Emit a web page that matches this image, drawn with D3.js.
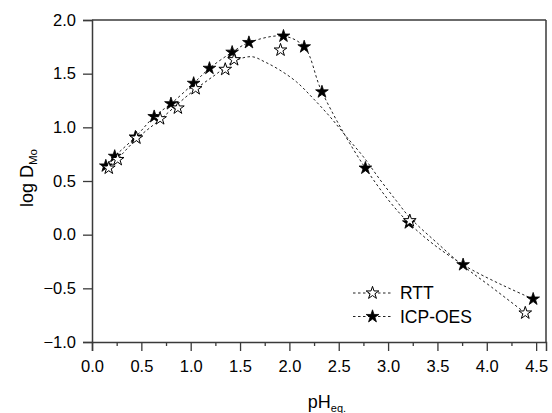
<!DOCTYPE html>
<html>
<head>
<meta charset="utf-8">
<script src="https://cdn.jsdelivr.net/npm/d3@7"></script>
<style>
  body { margin: 0; background: #fff; }
  text { font-family: "Liberation Sans", Arial, sans-serif; fill: #000; }
</style>
</head>
<body>
<div id="chart"></div>
<script>
// values
const phICP   = [0.14, 0.23, 0.44, 0.63, 0.80, 1.03, 1.19, 1.42, 1.59, 1.94, 2.15, 2.33, 2.77, 3.21, 3.76, 4.47];
const logDICP = [0.64, 0.73, 0.91, 1.10, 1.22, 1.41, 1.55, 1.70, 1.79, 1.85, 1.75, 1.33, 0.62, 0.11, -0.28, -0.60];

const phRTT   = [0.17, 0.26, 0.45, 0.69, 0.87, 1.05, 1.35, 1.44, 1.91, 3.22, 4.39];
const logDRTT = [0.62, 0.70, 0.90, 1.08, 1.18, 1.36, 1.54, 1.63, 1.72, 0.13, -0.73];

// the RTT dotted curve is a fit, it does not go through every point
const phFit   = [0.17, 0.45, 0.70, 1.00, 1.25, 1.45, 1.62, 1.75, 1.90, 2.07, 2.24, 2.41, 2.58, 2.75, 2.92, 3.08, 3.22, 3.50, 3.76, 4.05, 4.39];
const logDFit = [0.61, 0.89, 1.08, 1.32, 1.49, 1.62, 1.658, 1.61, 1.535, 1.425, 1.27, 1.10, 0.91, 0.725, 0.51, 0.32, 0.16, -0.08, -0.29, -0.49, -0.73];

const xTicks = [0, 0.5, 1, 1.5, 2, 2.5, 3, 3.5, 4, 4.5];
const yTicks = [-1, -0.5, 0, 0.5, 1, 1.5, 2];
const legendNames = ["RTT", "ICP-OES"];

const WIDTH = 552, HEIGHT = 413;
const M = {left: 92, right: 546, top: 20, bottom: 342};
const AXIS_COLOR = "#3a3a3a";

const svg = d3.select("#chart")
    .append("svg")
        .attr("width", WIDTH)
        .attr("height", HEIGHT);

const x = d3.scaleLinear().domain([0, 4.6]).range([M.left, M.right]);
const y = d3.scaleLinear().domain([-1, 2]).range([M.bottom, M.top]);

const star = d3.symbol().type(d3.symbolStar).size(50);

// bottom axis, major + minor ticks
svg.append("g")
    .attr("transform", `translate(0,${M.bottom})`)
    .call(d3.axisBottom(x).tickValues(xTicks).tickFormat(d3.format(".1f")).tickSize(9).tickPadding(9));
svg.append("g")
    .attr("transform", `translate(0,${M.bottom})`)
    .call(d3.axisBottom(x).tickValues(xTicks.slice(0, -1).map(d => d + 0.25)).tickFormat("").tickSize(4))
    .select(".domain").remove();

svg.append("g")
    .attr("transform", `translate(${M.left},0)`)
    .call(d3.axisLeft(y).tickValues(yTicks).tickFormat(d3.format(".1f")).tickSize(9).tickPadding(7));

svg.selectAll(".tick line").attr("stroke", AXIS_COLOR).attr("stroke-width", 1.3);
svg.selectAll(".domain").attr("stroke", AXIS_COLOR).attr("stroke-width", 1.5);
svg.selectAll(".tick text").style("font-size", "16.5px").attr("fill", "#000");

// top and right frame lines
svg.append("line")
    .attr("x1", x(0)).attr("x2", x(4.6)).attr("y1", y(2)).attr("y2", y(2))
    .attr("stroke", AXIS_COLOR).attr("stroke-width", 1.5);
svg.append("line")
    .attr("x1", x(4.6)).attr("x2", x(4.6)).attr("y1", y(2)).attr("y2", y(-1))
    .attr("stroke", AXIS_COLOR).attr("stroke-width", 1.5);

// axis titles
const xTitle = svg.append("text")
    .attr("x", 327)
    .attr("y", 408)
    .attr("text-anchor", "middle")
    .style("font-size", "18px");
xTitle.append("tspan").text("pH");
xTitle.append("tspan").attr("dy", 4).style("font-size", "11px").text("eq.");

const yTitle = svg.append("text")
    .attr("transform", "translate(33,178) rotate(-90)")
    .attr("text-anchor", "middle")
    .style("font-size", "18px");
yTitle.append("tspan").text("log D");
yTitle.append("tspan").attr("dy", 4).style("font-size", "11.5px").text("Mo");

// lines
const icp = phICP.map((d, i) => [d, logDICP[i]]);
const rtt = phRTT.map((d, i) => [d, logDRTT[i]]);
const fit = phFit.map((d, i) => [d, logDFit[i]]);

const line = d3.line()
    .x(d => x(d[0]))
    .y(d => y(d[1]))
    .curve(d3.curveCatmullRom.alpha(0.5));

[fit, icp].forEach(series => {
    svg.append("path")
        .datum(series)
        .attr("d", line)
        .attr("fill", "none")
        .attr("stroke", "#222")
        .attr("stroke-width", 1)
        .attr("stroke-dasharray", "2.5,2.5");
});

// markers: filled stars first, open stars on top
svg.append("g").selectAll("path")
    .data(icp)
    .enter()
    .append("path")
        .attr("d", star)
        .attr("transform", d => `translate(${x(d[0])},${y(d[1])})`)
        .attr("fill", "#000")
        .attr("stroke", "#000")
        .attr("stroke-width", 0.8);

svg.append("g").selectAll("path")
    .data(rtt)
    .enter()
    .append("path")
        .attr("d", star)
        .attr("transform", d => `translate(${x(d[0])},${y(d[1])})`)
        .attr("fill", "#fff")
        .attr("stroke", "#000")
        .attr("stroke-width", 1);

// legend
const legend = svg.append("g").selectAll("g")
    .data(legendNames)
    .enter()
    .append("g")
        .attr("transform", (d, i) => `translate(353,${293 + i * 23.5})`);

legend.append("line")
    .attr("x1", 0).attr("x2", 38)
    .attr("stroke", "#222")
    .attr("stroke-dasharray", "2.5,2.5");
legend.append("path")
    .attr("d", star)
    .attr("transform", "translate(19.5,0)")
    .attr("fill", (d, i) => i === 0 ? "#fff" : "#000")
    .attr("stroke", "#000")
    .attr("stroke-width", (d, i) => i === 0 ? 1 : 0.8);
legend.append("text")
    .attr("x", 47)
    .attr("dy", "0.35em")
    .style("font-size", "17.5px")
    .text(d => d);
</script>
</body>
</html>
